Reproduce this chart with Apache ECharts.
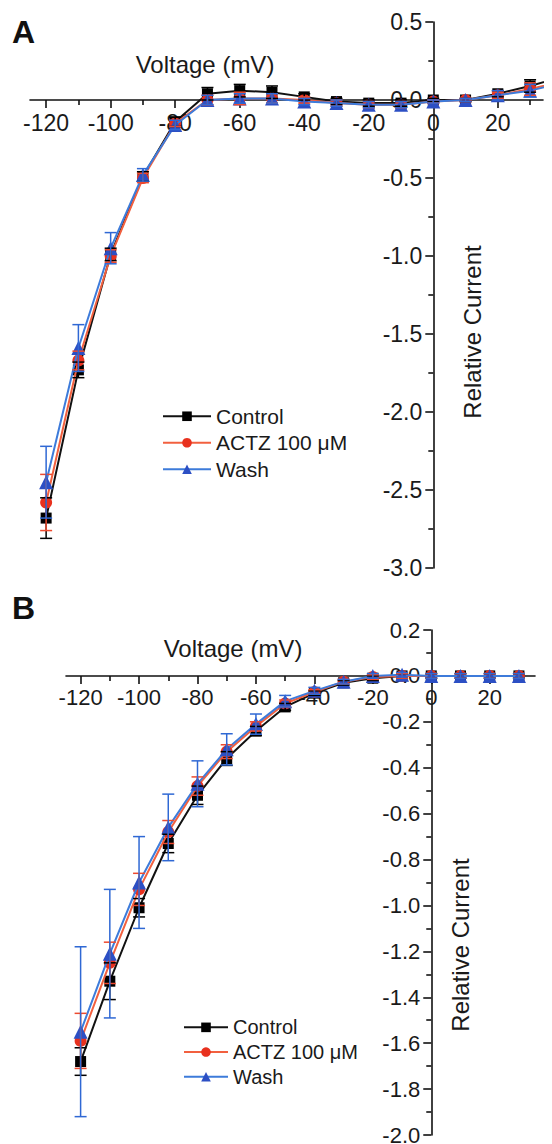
<!DOCTYPE html>
<html><head><meta charset="utf-8">
<script src="https://cdn.jsdelivr.net/npm/echarts@6/dist/echarts.min.js"></script>
<style>html,body{margin:0;padding:0;background:#fff}#c{width:552px;height:1144px}</style>
</head><body><div id="c"></div>
<script>
// ---------- Panel A data ----------
const voltageA = [-120,-110,-100,-90,-80,-70,-60,-50,-40,-30,-20,-10,0,10,20,30,40];
const controlA = [-2.68,-1.73,-0.99,-0.49,-0.14,0.04,0.06,0.05,0.02,-0.01,-0.02,-0.02,0.00,0.00,0.04,0.09,0.15];
const controlErrA = [0.13,0.05,0.04,0.03,0.03,0.04,0.04,0.04,0.02,0.02,0.02,0.02,0.01,0.01,0.02,0.04,0.04];
const actzA = [-2.58,-1.67,-1.00,-0.50,-0.15,0.00,0.01,0.01,0.00,-0.02,-0.03,-0.03,-0.01,0.00,0.03,0.07,0.12];
const actzErrA = [0.18,0.06,0.04,0.03,0.02,0.03,0.04,0.03,0.02,0.02,0.02,0.02,0.01,0.01,0.02,0.04,0.04];
const washA = [-2.45,-1.59,-0.95,-0.48,-0.16,0.00,0.01,0.01,-0.01,-0.02,-0.03,-0.03,-0.01,0.00,0.03,0.06,0.11];
const washErrA = [0.23,0.15,0.10,0.04,0.03,0.03,0.03,0.03,0.02,0.02,0.02,0.02,0.01,0.01,0.03,0.04,0.04];

// ---------- Panel B data ----------
const voltageB = [-120,-110,-100,-90,-80,-70,-60,-50,-40,-30,-20,-10,0,10,20,30];
const controlB = [-1.68,-1.33,-1.01,-0.73,-0.52,-0.36,-0.24,-0.135,-0.075,-0.03,-0.01,0.00,0.00,0.00,0.00,0.00];
const controlErrB = [0.06,0.08,0.04,0.04,0.04,0.03,0.02,0.015,0.01,0.01,0.01,0.01,0.01,0.01,0.01,0.01];
const actzB = [-1.59,-1.25,-0.93,-0.68,-0.48,-0.33,-0.22,-0.12,-0.07,-0.025,-0.005,0.00,0.00,0.00,0.00,0.00];
const actzErrB = [0.12,0.09,0.07,0.05,0.04,0.03,0.02,0.015,0.01,0.01,0.01,0.01,0.01,0.01,0.01,0.01];
const washB = [-1.55,-1.21,-0.90,-0.66,-0.47,-0.32,-0.21,-0.11,-0.065,-0.025,0.00,0.005,0.00,0.00,0.00,0.00];
const washErrB = [0.37,0.28,0.20,0.145,0.10,0.068,0.044,0.025,0.015,0.01,0.01,0.01,0.01,0.01,0.01,0.01];

// ---------- tick labels / names ----------
const xMajorTicks = [-120,-100,-80,-60,-40,-20,0,20];
const xMinorTicks = [-110,-90,-70,-50,-30,-10,10,30];
const seriesNames = ['Control','ACTZ 100 \u03bcM','Wash'];
const xTitle = 'Voltage (mV)';
const yTitle = 'Relative Current';

const FONT = '"Liberation Sans", Arial, Helvetica, sans-serif';
const AXIS = '#111';
const styles = [
  {line:'#111111', item:'#000000', err:'#000000', symbol:'rect', size:11},
  {line:'#F2603F', item:'#E8311E', err:'#EE4A2E', symbol:'circle', size:12},
  {line:'#3D7BDA', item:'#2C4FC4', err:'#2F68D4', symbol:'triangle', size:14}
];

// panel layouts (pixels) and axis ranges
const panels = [
  {left:30, top:22, width:513, height:546, xmin:-125, xmax:34, ymin:-3, ymax:0.5, yint:0.5, yfs:23, xfs:23},
  {left:66, top:630, width:469, height:505, xmin:-125, xmax:35.5, ymin:-2, ymax:0.2, yint:0.2, yfs:22, xfs:22}
];

const grids = [], xAxes = [], yAxes = [];
const tickLine = {color:AXIS, width:1.6};
panels.forEach((p, k) => {
  const g0 = grids.length;
  // data grid
  grids.push({left:p.left, top:p.top, width:p.width, height:p.height, containLabel:false, outerBoundsMode:'none'});
  // x axis grid: bottom edge at y = 0
  const zeroY = p.height * (p.ymax - 0) / (p.ymax - p.ymin);
  grids.push({left:p.left, top:p.top, width:p.width, height:zeroY, containLabel:false, outerBoundsMode:'none'});
  // y axis grid: left edge at x = 0
  const zeroX = p.width * (0 - p.xmin) / (p.xmax - p.xmin);
  grids.push({left:p.left + zeroX, top:p.top, width:p.width - zeroX, height:p.height, containLabel:false, outerBoundsMode:'none'});
  p.xData = xAxes.length; p.yData = yAxes.length;
  xAxes.push({gridIndex:g0, type:'value', min:p.xmin, max:p.xmax, show:false});
  yAxes.push({gridIndex:g0, type:'value', min:p.ymin, max:p.ymax, show:false});
  xAxes.push({gridIndex:g0+1, type:'value', min:p.xmin, max:p.xmax, position:'bottom',
     axisLine:{show:true, onZero:false, lineStyle:tickLine},
     axisTick:{show:true, customValues:xMajorTicks, length:8, lineStyle:tickLine},
     axisLabel:{show:true, customValues:xMajorTicks, fontSize:p.xfs, margin:11, color:'#1a1a1a', fontFamily:FONT},
     splitLine:{show:false}});
  xAxes.push({gridIndex:g0+1, type:'value', min:p.xmin, max:p.xmax, position:'bottom',
     axisLine:{show:false, onZero:false},
     axisTick:{show:true, customValues:xMinorTicks, length:5, lineStyle:tickLine},
     axisLabel:{show:false}, splitLine:{show:false}});
  yAxes.push({gridIndex:g0+1, type:'value', min:0, max:1, show:false});
  xAxes.push({gridIndex:g0+2, type:'value', min:0, max:1, show:false});
  yAxes.push({gridIndex:g0+2, type:'value', min:p.ymin, max:p.ymax, interval:p.yint, position:'left',
    axisLine:{show:true, onZero:false, lineStyle:tickLine},
    axisTick:{show:true, length:8, lineStyle:tickLine},
    minorTick:{show:true, splitNumber:2, length:5, lineStyle:tickLine},
    axisLabel:{fontSize:p.yfs, margin:11, color:'#1a1a1a', fontFamily:FONT,
      formatter:v => (Math.abs(v) < 1e-9 ? 0 : v).toFixed(1)},
    splitLine:{show:false}, minorSplitLine:{show:false}});
});

function lineSeries(p, idx, xs, ys) {
  const s = styles[idx];
  return {type:'line', name:seriesNames[idx], xAxisIndex:p.xData, yAxisIndex:p.yData,
    data: xs.map((x,i)=>[x, ys[i]]), symbol:s.symbol, symbolSize:s.size, showSymbol:true,
    lineStyle:{color:s.line, width:2}, itemStyle:{color:s.item}, clip:false, z:2+idx, animation:false};
}
function errSeries(p, idx, xs, ys, es) {
  const color = styles[idx].err;
  return {type:'custom', name:seriesNames[idx]+' SE', xAxisIndex:p.xData, yAxisIndex:p.yData,
    data: xs.map((x,i)=>[x, ys[i], es[i]]), encode:{x:0, y:1}, clip:false, silent:true, z:6+idx, animation:false,
    renderItem: (params, api) => {
      const x = api.value(0), y = api.value(1), e = api.value(2);
      const t = api.coord([x, y+e]), b = api.coord([x, y-e]);
      const w = 6, st = {stroke:color, lineWidth:1.5};
      return {type:'group', children:[
        {type:'line', shape:{x1:t[0], y1:t[1], x2:b[0], y2:b[1]}, style:st},
        {type:'line', shape:{x1:t[0]-w, y1:t[1], x2:t[0]+w, y2:t[1]}, style:st},
        {type:'line', shape:{x1:b[0]-w, y1:b[1], x2:b[0]+w, y2:b[1]}, style:st}
      ]};
    }};
}

const pA = panels[0], pB = panels[1];
const option = {
  backgroundColor:'#fff',
  animation:false,
  grid:grids, xAxis:xAxes, yAxis:yAxes,
  legend:[
    {orient:'vertical', left:157, top:398, itemWidth:48, itemHeight:12, itemGap:0, data:seriesNames,
     textStyle:{fontSize:21, lineHeight:26.5, fontFamily:FONT, color:'#1a1a1a'}, selectedMode:false},
    {orient:'vertical', left:178, top:1010, itemWidth:44, itemHeight:12, itemGap:0, data:seriesNames,
     textStyle:{fontSize:20, lineHeight:24.7, fontFamily:FONT, color:'#1a1a1a'}, selectedMode:false}
  ],
  series:[
    lineSeries(pA,0,voltageA,controlA), lineSeries(pA,1,voltageA,actzA), lineSeries(pA,2,voltageA,washA),
    errSeries(pA,0,voltageA,controlA,controlErrA), errSeries(pA,1,voltageA,actzA,actzErrA), errSeries(pA,2,voltageA,washA,washErrA),
    lineSeries(pB,0,voltageB,controlB), lineSeries(pB,1,voltageB,actzB), lineSeries(pB,2,voltageB,washB),
    errSeries(pB,0,voltageB,controlB,controlErrB), errSeries(pB,1,voltageB,actzB,actzErrB), errSeries(pB,2,voltageB,washB,washErrB)
  ],
  graphic:[
    {type:'text', left:12, top:16, style:{text:'A', fontSize:32, fontWeight:'bold', fontFamily:FONT, fill:'#111'}},
    {type:'text', left:12, top:592, style:{text:'B', fontSize:32, fontWeight:'bold', fontFamily:FONT, fill:'#111'}},
    {type:'text', x:205, y:64, style:{text:xTitle, fontSize:24, fontFamily:FONT, fill:'#1a1a1a', align:'center', verticalAlign:'middle'}},
    {type:'text', x:233, y:648, style:{text:xTitle, fontSize:24, fontFamily:FONT, fill:'#1a1a1a', align:'center', verticalAlign:'middle'}},
    {type:'text', x:472, y:332, rotation:Math.PI/2, style:{text:yTitle, fontSize:24, fontFamily:FONT, fill:'#1a1a1a', align:'center', verticalAlign:'middle'}},
    {type:'text', x:460, y:945, rotation:Math.PI/2, style:{text:yTitle, fontSize:24, fontFamily:FONT, fill:'#1a1a1a', align:'center', verticalAlign:'middle'}}
  ]
};
const chart = echarts.init(document.getElementById('c'), null, {renderer:'svg'});
chart.setOption(option);
</script>
</body></html>
